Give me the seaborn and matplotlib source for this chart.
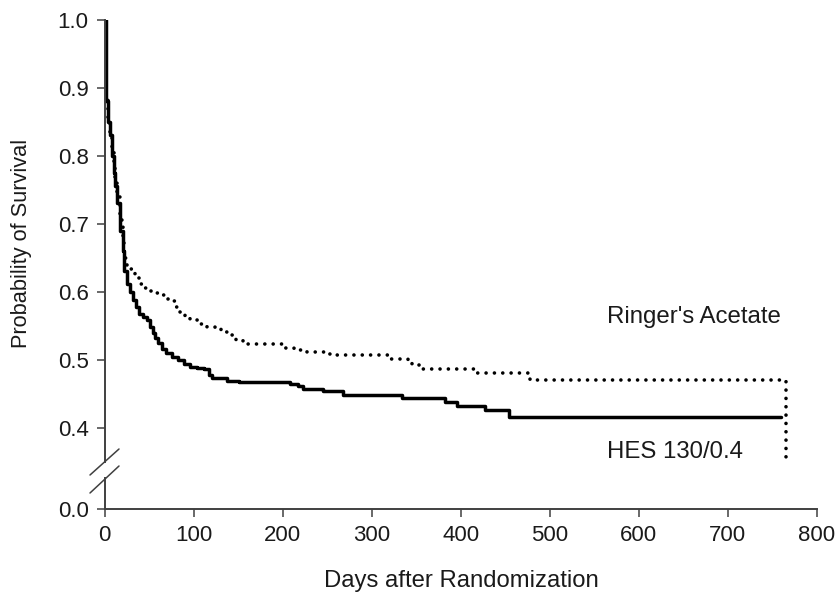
import matplotlib
matplotlib.use("Agg")
import matplotlib.pyplot as plt
from matplotlib.lines import Line2D
import seaborn as sns

# ==========================================
# DATA
# ==========================================

hes_days = [0, 1, 2, 4, 6, 8, 10, 12, 14, 17,
            20, 22, 25, 28, 32, 35, 39, 43, 47, 51,
            54, 57, 60, 64, 69, 76, 82, 89, 96, 104,
            112, 117, 121, 137, 151, 208, 217, 223, 245, 268,
            334, 382, 396, 427, 454, 760]
hes_surv = [1.0, 0.93, 0.88, 0.85, 0.83, 0.80, 0.775, 0.755, 0.73, 0.69,
            0.66, 0.63, 0.612, 0.60, 0.588, 0.578, 0.567, 0.563, 0.558, 0.548,
            0.54, 0.532, 0.525, 0.516, 0.51, 0.504, 0.50, 0.494, 0.49, 0.488,
            0.486, 0.478, 0.473, 0.469, 0.467, 0.465, 0.461, 0.458, 0.455, 0.449,
            0.444, 0.438, 0.433, 0.426, 0.416, 0.416]

ringer_days = [0, 1, 2, 4, 6, 8, 10, 12, 14, 17,
               20, 22, 25, 28, 34, 39, 45, 51, 59, 65,
               70, 76, 80, 84, 90, 96, 106, 115, 124, 131,
               137, 147, 155, 178, 200, 213, 227, 247, 253, 322,
               341, 345, 357, 418, 478, 765]
ringer_surv = [1.0, 0.94, 0.89, 0.855, 0.835, 0.81, 0.785, 0.765, 0.74, 0.705,
               0.672, 0.65, 0.64, 0.634, 0.62, 0.612, 0.605, 0.601, 0.599, 0.596,
               0.59, 0.586, 0.578, 0.570, 0.563, 0.558, 0.553, 0.549, 0.546, 0.541,
               0.536, 0.530, 0.524, 0.523, 0.517, 0.514, 0.511, 0.509, 0.507, 0.502,
               0.498, 0.492, 0.487, 0.481, 0.471, 0.354]

x_ticks = [0, 100, 200, 300, 400, 500, 600, 700, 800]
y_ticks_top = [0.4, 0.5, 0.6, 0.7, 0.8, 0.9, 1.0]
y_ticks_bot = [0.0]

# ==========================================
# STYLE
# ==========================================

sns.set_style("ticks")
plt.rcParams["font.family"] = ["Liberation Sans", "DejaVu Sans"]
axis_col = "#404040"
text_col = "#1a1a1a"

W, H = 840, 599
fig = plt.figure(figsize=(8.4, 5.99), dpi=100)

left = 104.7 / W
width = (816.7 - 104.7) / W

# upper panel (0.35 .. 1.0) and lower stub (0.0) -> broken y axis
ax = fig.add_axes([left, 1 - 462 / H, width, (462 - 19.7) / H])
ax_bot = fig.add_axes([left, 1 - 509 / H, width, (509 - 478) / H], sharex=ax)

# ==========================================
# SURVIVAL CURVES
# ==========================================

sns.lineplot(x=hes_days, y=hes_surv, ax=ax, color="black",
             linewidth=2.5, drawstyle="steps-post")

sns.lineplot(x=ringer_days, y=ringer_surv, ax=ax, color="black",
             linewidth=2.6, linestyle=(0, (0.01, 2.3)),
             dash_capstyle="round", drawstyle="steps-post")

ax.text(564, 0.563, "Ringer's Acetate", fontsize=17.3, color=text_col,
        ha="left", va="center")
ax.text(564, 0.364, "HES 130/0.4", fontsize=17.3, color=text_col,
        ha="left", va="center")

# ==========================================
# AXES
# ==========================================

ax.set_xlim(0, 800)
ax.set_ylim(0.35, 1.0)
ax.set_yticks(y_ticks_top)
ax.set_yticklabels([f"{v:.1f}" for v in y_ticks_top])
ax.tick_params(axis="x", which="both", bottom=False, labelbottom=False)
ax.spines["bottom"].set_visible(False)

ax_bot.set_ylim(0, 0.0456)
ax_bot.set_yticks(y_ticks_bot)
ax_bot.set_yticklabels([f"{v:.1f}" for v in y_ticks_bot])
ax_bot.set_xticks(x_ticks)
ax_bot.set_xticklabels([str(v) for v in x_ticks])
ax_bot.spines["top"].set_visible(False)

for a in (ax, ax_bot):
    a.spines["right"].set_visible(False)
    a.spines["top"].set_visible(False)
    a.spines["left"].set_color(axis_col)
    a.spines["left"].set_linewidth(1.4)
    a.spines["bottom"].set_color(axis_col)
    a.spines["bottom"].set_linewidth(1.4)
    a.tick_params(colors=axis_col, labelcolor=text_col, labelsize=16,
                  length=5.5, width=1.1, direction="out", pad=6)
    a.set_xlabel("")
    a.set_ylabel("")
    a.set_facecolor("white")

# axis break marks
for y0, y1 in [(475, 449), (493, 466)]:
    fig.add_artist(Line2D([90 / W, 119 / W], [1 - y0 / H, 1 - y1 / H],
                          transform=fig.transFigure, color=axis_col, lw=1.1))

fig.text(22 / W, 1 - 243 / H, "Probability of Survival", rotation=90,
         fontsize=15.7, color=text_col, ha="center", va="center")
fig.text(461 / W, 1 - 581 / H, "Days after Randomization",
         fontsize=17.2, color=text_col, ha="center", va="center")

fig.savefig("out.png", dpi=100, facecolor="white")
